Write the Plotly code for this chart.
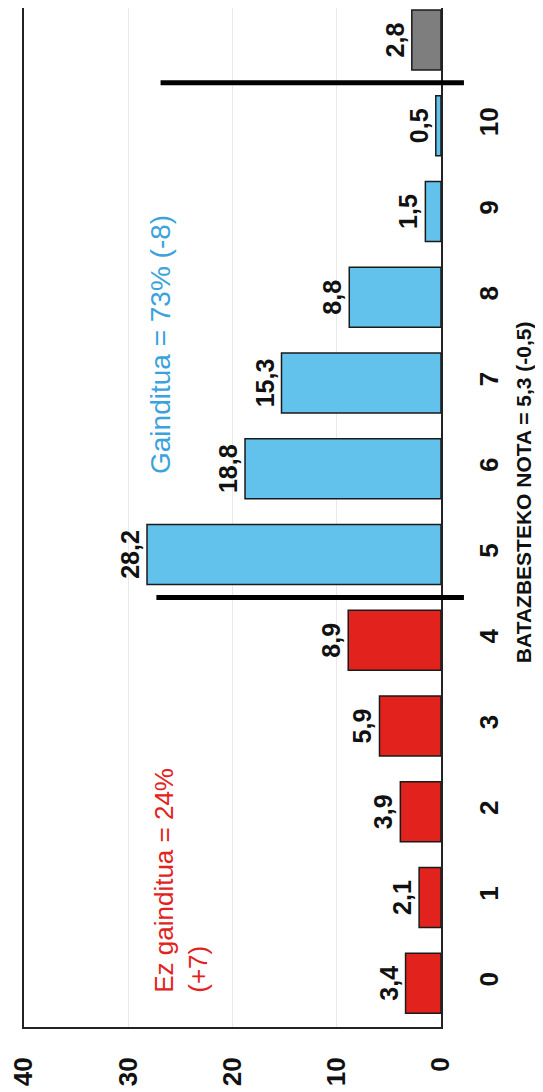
import plotly.graph_objects as go

categories = ["0", "1", "2", "3", "4", "5", "6", "7", "8", "9", "10", "ED/EE"]
values = [3.4, 2.1, 3.9, 5.9, 8.9, 28.2, 18.8, 15.3, 8.8, 1.5, 0.5, 2.8]
groups = ["fail"] * 5 + ["pass"] * 6 + ["na"]
x_ticks = [0, 10, 20, 30, 40]

RED = "#E2231D"
BLUE = "#62C2EC"
GREY = "#7E7E7F"
color_map = {"fail": RED, "pass": BLUE, "na": GREY}
colors = [color_map[g] for g in groups]
labels = [f"{v:.1f}".replace(".", ",") for v in values]

XMAX, XMIN = 40, 0
FONT = "Liberation Sans"

fig = go.Figure()
fig.add_trace(go.Bar(
    y=list(range(len(categories))),
    x=values,
    orientation="h",
    width=0.7,
    marker=dict(color=colors, line=dict(color="#1a1a1a", width=1.5)),
    text=labels,
    textposition="outside",
    textangle=-90,
    textfont=dict(family=FONT, size=25, color="#111111", weight="bold"),
    cliponaxis=False,
    showlegend=False,
))

def paper_x(v):
    return (XMAX - v) / (XMAX - XMIN)

# separator lines (between 4|5 and 10|ED/EE)
for yv, x0 in [(4.5, 27.3), (10.5, 26.9)]:
    fig.add_shape(type="line", xref="paper", yref="y",
                  x0=paper_x(x0), x1=paper_x(-2.2), y0=yv, y1=yv,
                  line=dict(color="black", width=5), layer="above")

fig.add_annotation(x=26.9, y=7.45, xref="x", yref="y",
                   text="Gainditua = 73% (-8)", textangle=-90, showarrow=False,
                   font=dict(family=FONT, size=28, color="#3AA3DE"))
fig.add_annotation(x=24.9, y=1.2, xref="x", yref="y",
                   text="Ez gainditua = 24%<br>(+7)", textangle=-90, showarrow=False,
                   align="left",
                   font=dict(family=FONT, size=26, color="#E2231D"))
fig.add_annotation(x=1.232, y=5.73, xref="paper", yref="y",
                   text="BATAZBESTEKO NOTA = 5,3 (-0,5)", textangle=-90, showarrow=False,
                   font=dict(family=FONT, size=21, color="#111111", weight="bold"))

fig.update_layout(
    width=535, height=1084,
    margin=dict(l=13, r=102, t=0, b=65),
    paper_bgcolor="white", plot_bgcolor="white",
    bargap=0.3,
)
fig.update_xaxes(
    range=[XMAX, XMIN], tickvals=x_ticks, ticktext=[str(t) for t in x_ticks],
    tickangle=-90, tickfont=dict(family=FONT, size=26, color="#111111", weight="bold"),
    showgrid=True, gridcolor="#E8E8E8", gridwidth=1, zeroline=False,
    showline=True, linecolor="#222222", linewidth=2, mirror=False,
    ticks="", ticklabelstandoff=18, ticklabeloverflow="allow",
)
fig.update_yaxes(
    range=[-0.51, 11.373], tickvals=list(range(len(categories))), ticktext=categories,
    side="right", tickangle=-90,
    tickfont=dict(family=FONT, size=26, color="#111111", weight="bold"),
    showgrid=False, zeroline=False,
    showline=True, linecolor="#222222", linewidth=2, mirror=True,
    ticks="", ticklabelstandoff=24,
)

fig.write_html("out.html")
